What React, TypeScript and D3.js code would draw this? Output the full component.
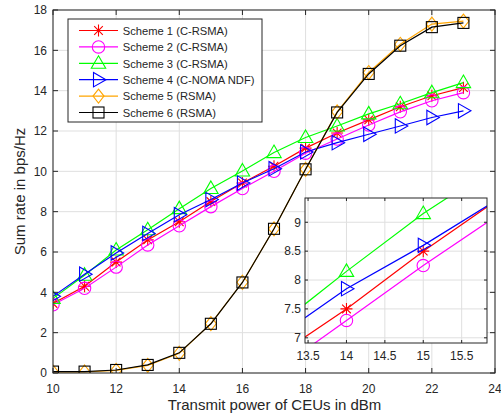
import React from "react";
import * as d3 from "d3";

const xs = [10, 11, 12, 13, 14, 15, 16, 17, 18, 19, 20, 21, 22, 23];
const s1 = [3.45, 4.3, 5.5, 6.6, 7.5, 8.5, 9.42, 10.25, 11.15, 11.9, 12.55, 13.2, 13.75, 14.15];
const s2 = [3.38, 4.2, 5.25, 6.35, 7.3, 8.25, 9.15, 10.0, 10.9, 11.6, 12.3, 12.95, 13.5, 13.9];
const s3 = [3.7, 4.85, 6.1, 7.1, 8.15, 9.15, 10.02, 10.93, 11.68, 12.25, 12.85, 13.35, 13.9, 14.4];
const s4 = [3.8, 4.9, 5.95, 6.92, 7.85, 8.6, 9.42, 10.13, 10.96, 11.42, 11.84, 12.25, 12.67, 13.0];
const s5 = [0.05, 0.05, 0.13, 0.38, 0.98, 2.45, 4.5, 7.15, 10.1, 12.95, 14.9, 16.3, 17.3, 17.45];
const s6 = [0.07, 0.07, 0.15, 0.4, 1.0, 2.44, 4.49, 7.15, 10.1, 12.92, 14.83, 16.23, 17.15, 17.36];

const seriesNames = [
  "Scheme 1 (C-RSMA)",
  "Scheme 2 (C-RSMA)",
  "Scheme 3 (C-RSMA)",
  "Scheme 4 (C-NOMA NDF)",
  "Scheme 5 (RSMA)",
  "Scheme 6 (RSMA)",
];
const seriesColors = ["#ff0000", "#ff00ff", "#00ff00", "#0000ff", "#ffa500", "#000000"];
const seriesMarkers = ["star", "circle", "tri", "right", "diamond", "square"];
const seriesValues = [s1, s2, s3, s4, s5, s6];

const xTicks = [10, 12, 14, 16, 18, 20, 22, 24];
const yTicks = [0, 2, 4, 6, 8, 10, 12, 14, 16, 18];
const insetXTicks = [13.5, 14, 14.5, 15, 15.5];
const insetYTicks = [7, 7.5, 8, 8.5, 9];

const FONT = "'Liberation Sans', Arial, Helvetica, sans-serif";
const AX = "#262626";
const GRID = "#dfdfdf";

function Marker({ type, x, y, color }: { type: string; x: number; y: number; color: string }) {
  const p = { fill: "none", stroke: color, strokeWidth: 1.1 };
  if (type === "circle") return <circle cx={x} cy={y} r={6.2} {...p} />;
  if (type === "square") return <rect x={x - 5.5} y={y - 5.5} width={11} height={11} {...p} />;
  if (type === "diamond")
    return <path d={`M${x},${y - 7}L${x + 5.5},${y}L${x},${y + 7}L${x - 5.5},${y}Z`} {...p} />;
  if (type === "tri")
    return <path d={`M${x},${y - 7.5}L${x + 7.2},${y + 5}L${x - 7.2},${y + 5}Z`} {...p} />;
  if (type === "right")
    return <path d={`M${x + 7.5},${y}L${x - 5},${y + 7.2}L${x - 5},${y - 7.2}Z`} {...p} />;
  const r = 6;
  const d = r * 0.72;
  return (
    <path
      d={`M${x - r},${y}L${x + r},${y}M${x},${y - r}L${x},${y + r}M${x - d},${y - d}L${x + d},${y + d}M${x - d},${y + d}L${x + d},${y - d}`}
      {...p}
    />
  );
}

export default function App() {
  const W = 501,
    H = 414;
  const L = 53,
    R = 495,
    T = 10,
    B = 373;
  const x = d3.scaleLinear().domain([10, 24]).range([L, R]);
  const y = d3.scaleLinear().domain([0, 18]).range([B, T]);

  const iL = 305,
    iR = 487,
    iT = 198,
    iB = 343;
  const ix = d3.scaleLinear().domain([13.46, 15.83]).range([iL, iR]);
  const iy = d3.scaleLinear().domain([6.91, 9.42]).range([iB, iT]);

  const line = d3
    .line<number>()
    .x((_, i) => x(xs[i]))
    .y((v) => y(v));
  const iline = d3
    .line<number>()
    .x((_, i) => ix(xs[i]))
    .y((v) => iy(v));

  const tl = 5;
  const insetSeries = [0, 1, 2, 3];
  const TF = 12;

  return (
    <svg width={W} height={H} style={{ position: "absolute", left: 0, top: 0, fontFamily: FONT }}>
      <defs>
        <clipPath id="mainclip">
          <rect x={L} y={T} width={R - L} height={B - T} />
        </clipPath>
        <clipPath id="insetclip">
          <rect x={iL} y={iT} width={iR - iL} height={iB - iT} />
        </clipPath>
      </defs>
      <rect x={0} y={0} width={W} height={H} fill="#fff" />
      <rect x={L} y={T} width={R - L} height={B - T} fill="#fff" />
      {xTicks.map((t) => (
        <line key={"gx" + t} x1={x(t)} x2={x(t)} y1={T} y2={B} stroke={GRID} strokeWidth={1} />
      ))}
      {yTicks.map((t) => (
        <line key={"gy" + t} x1={L} x2={R} y1={y(t)} y2={y(t)} stroke={GRID} strokeWidth={1} />
      ))}
      <g clipPath="url(#mainclip)">
        {seriesValues.map((vals, si) => (
          <g key={"s" + si}>
            <path d={line(vals) || ""} fill="none" stroke={seriesColors[si]} strokeWidth={1.2} />
            {vals.map((v, i) => (
              <Marker key={i} type={seriesMarkers[si]} x={x(xs[i])} y={y(v)} color={seriesColors[si]} />
            ))}
          </g>
        ))}
      </g>
      <rect x={L} y={T} width={R - L} height={B - T} fill="none" stroke={AX} strokeWidth={1} />
      {xTicks.map((t) => (
        <g key={"tx" + t}>
          <line x1={x(t)} x2={x(t)} y1={B} y2={B - tl} stroke={AX} />
          <line x1={x(t)} x2={x(t)} y1={T} y2={T + tl} stroke={AX} />
          <text x={x(t)} y={B + 19.5} textAnchor="middle" fontSize={TF} fill={AX}>
            {t}
          </text>
        </g>
      ))}
      {yTicks.map((t) => (
        <g key={"ty" + t}>
          <line x1={L} x2={L + tl} y1={y(t)} y2={y(t)} stroke={AX} />
          <line x1={R} x2={R - tl} y1={y(t)} y2={y(t)} stroke={AX} />
          <text x={L - 6} y={y(t) + 4.3} textAnchor="end" fontSize={TF} fill={AX}>
            {t}
          </text>
        </g>
      ))}
      <text x={274.5} y={410} textAnchor="middle" fontSize={15} fill={AX}>
        Transmit power of CEUs in dBm
      </text>
      <text
        transform={`translate(25,${(T + B) / 2}) rotate(-90)`}
        textAnchor="middle"
        fontSize={15}
        fill={AX}
      >
        Sum rate in bps/Hz
      </text>

      <rect x={68} y={19} width={194} height={103} fill="#fff" stroke={AX} strokeWidth={1} />
      {seriesNames.map((n, i) => {
        const ly = 30.5 + i * 16.4;
        return (
          <g key={"lg" + i}>
            <line x1={79} x2={118} y1={ly} y2={ly} stroke={seriesColors[i]} strokeWidth={1.2} />
            <Marker type={seriesMarkers[i]} x={98.5} y={ly} color={seriesColors[i]} />
            <text x={122.7} y={ly + 4.2} fontSize={11.2} fill={AX}>
              {n}
            </text>
          </g>
        );
      })}

      <rect x={iL} y={iT} width={iR - iL} height={iB - iT} fill="#fff" />
      {insetXTicks.map((t) => (
        <line key={"igx" + t} x1={ix(t)} x2={ix(t)} y1={iT} y2={iB} stroke={GRID} />
      ))}
      {insetYTicks.map((t) => (
        <line key={"igy" + t} x1={iL} x2={iR} y1={iy(t)} y2={iy(t)} stroke={GRID} />
      ))}
      <g clipPath="url(#insetclip)">
        {insetSeries.map((si) => (
          <g key={"is" + si}>
            <path d={iline(seriesValues[si]) || ""} fill="none" stroke={seriesColors[si]} strokeWidth={1.2} />
            {seriesValues[si].map((v, i) => (
              <Marker key={i} type={seriesMarkers[si]} x={ix(xs[i])} y={iy(v)} color={seriesColors[si]} />
            ))}
          </g>
        ))}
      </g>
      <rect x={iL} y={iT} width={iR - iL} height={iB - iT} fill="none" stroke={AX} strokeWidth={1} />
      {insetXTicks.map((t) => (
        <g key={"itx" + t}>
          <line x1={ix(t)} x2={ix(t)} y1={iB} y2={iB - 3} stroke={AX} />
          <line x1={ix(t)} x2={ix(t)} y1={iT} y2={iT + 3} stroke={AX} />
          <text x={ix(t)} y={iB + 17} textAnchor="middle" fontSize={TF} fill={AX}>
            {t}
          </text>
        </g>
      ))}
      {insetYTicks.map((t) => (
        <g key={"ity" + t}>
          <line x1={iL} x2={iL + 3} y1={iy(t)} y2={iy(t)} stroke={AX} />
          <line x1={iR} x2={iR - 3} y1={iy(t)} y2={iy(t)} stroke={AX} />
          <text x={iL - 4} y={iy(t) + 4.3} textAnchor="end" fontSize={TF} fill={AX}>
            {t}
          </text>
        </g>
      ))}
    </svg>
  );
}
